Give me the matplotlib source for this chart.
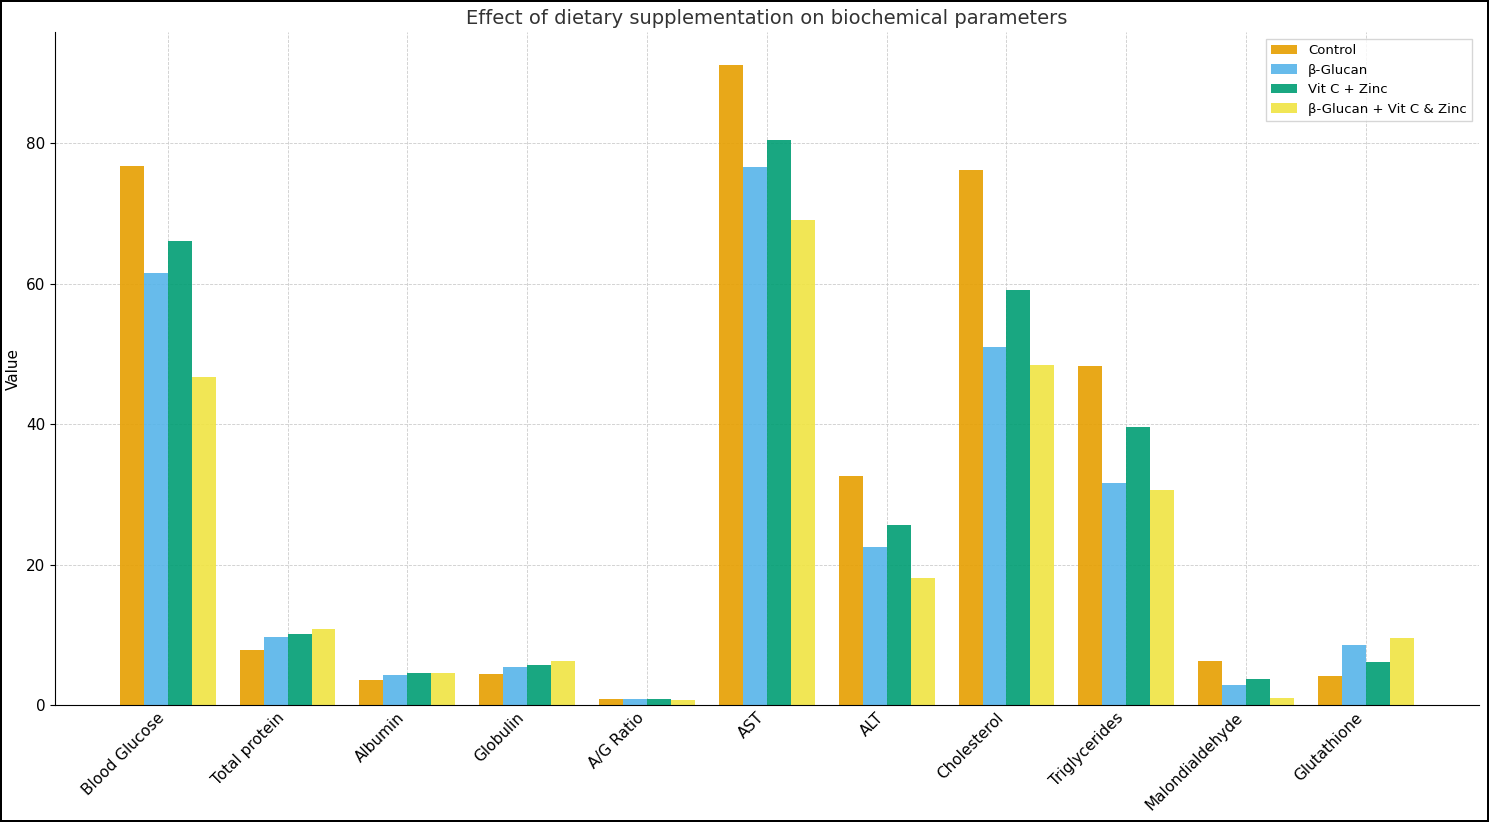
import numpy as np
import matplotlib.pyplot as plt

# values
parameters = ["Blood Glucose", "Total protein", "Albumin", "Globulin", "A/G Ratio",
              "AST", "ALT", "Cholesterol", "Triglycerides", "Malondialdehyde",
              "Glutathione"]
groups = ["Control", "β-Glucan", "Vit C + Zinc", "β-Glucan + Vit C & Zinc"]

control = [76.7, 7.9, 3.6, 4.4, 0.9, 91.1, 32.6, 76.2, 48.3, 6.3, 4.2]
beta_glucan = [61.5, 9.7, 4.3, 5.4, 0.85, 76.6, 22.5, 51.0, 31.7, 2.9, 8.6]
vitc_zinc = [66.0, 10.1, 4.6, 5.7, 0.85, 80.4, 25.6, 59.1, 39.6, 3.8, 6.1]
combined = [46.7, 10.8, 4.6, 6.3, 0.7, 69.0, 18.1, 48.4, 30.7, 1.1, 9.6]

colors = ["#E69F00", "#56B4E9", "#009E73", "#F0E442"]

fig = plt.figure(figsize=(14.89, 8.22), dpi=100)
fig.patch.set_edgecolor("black")
fig.patch.set_linewidth(1.5)
ax = fig.add_axes([0.037, 0.142, 0.956, 0.819])

x = np.arange(len(parameters))
width = 0.2
series = [control, beta_glucan, vitc_zinc, combined]
for i, (vals, label) in enumerate(zip(series, groups)):
    ax.bar(x + (i - 1.5) * width, vals, width, label=label,
           color=colors[i], alpha=0.9)

ax.set_xticks(x)
ax.set_xticklabels(parameters, rotation=45, ha="right", fontsize=11)
ax.tick_params(axis="x", length=0)
ax.tick_params(axis="y", labelsize=11)
ax.set_ylabel("Value", fontsize=11)
ax.set_title("Effect of dietary supplementation on biochemical parameters",
             fontsize=14, color="#333333")
ax.set_ylim(0, 95.8)
ax.set_yticks([0, 20, 40, 60, 80])
ax.grid(True, linestyle="--", linewidth=0.6, color="#cccccc")
ax.set_axisbelow(True)
for s in ["top", "right"]:
    ax.spines[s].set_visible(False)
ax.legend(loc="upper right", fontsize=9.5, fancybox=False)

fig.savefig("out.png", dpi=100)
